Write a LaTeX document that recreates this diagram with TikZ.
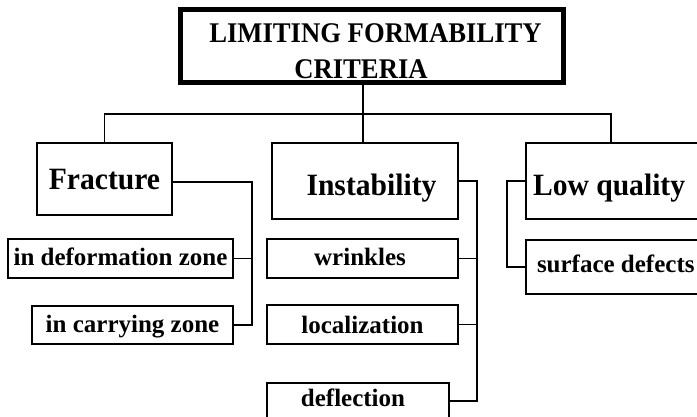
\documentclass[tikz,border=0pt]{standalone}
\usepackage{fontspec}
\setmainfont{Liberation Serif}
\newfontfamily\topfont{Liberation Serif}[FakeStretch=0.935]
\newfontfamily\bigfont{Liberation Serif}[FakeStretch=0.955]
\usetikzlibrary{calc}
\tikzset{
  box/.style={draw, line width=1.5pt, inner xsep=0pt, inner ysep=0pt, outer sep=0pt,
    minimum height=0pt, anchor=north west, font=\bfseries},
  bigtxt/.style={box, font=\bigfont\bfseries\fontsize{31}{34}\selectfont},
  smalltxt/.style={box, font=\bfseries\fontsize{25}{28}\selectfont},
  conn/.style={line width=1.5pt},
}
\begin{document}
\begin{tikzpicture}[x=1pt,y=-1pt]
\useasboundingbox (0,0) rectangle (697,416);
% top box
\node[box, line width=5pt, font=\topfont\bfseries\fontsize{28.5}{36}\selectfont,
  text height=32.5pt, text depth=40.5pt] (top) at (180.5,9.5)
  {\vtop{\baselineskip=36pt
     \hbox to 383pt{\hfil\kern7pt LIMITING FORMABILITY\hfil}
     \hbox to 383pt{\hfil CRITERIA\kern22pt\hfil}}};
% level 1
\node[bigtxt, minimum width=135pt, text height=46.5pt, text depth=25.5pt] (frac) at (37,143) {Fracture};
\node[bigtxt, minimum width=186pt, text height=52pt, text depth=24pt] (inst) at (272,143) {\hspace*{13pt}Instability};
\node[bigtxt, text height=52pt, text depth=24pt] (low) at (526,143) {\hbox to 180pt{\kern7pt Low quality\hfil}};
% fracture children
\node[smalltxt, minimum width=225pt, text height=26pt, text depth=13pt] (deform) at (8,239) {in deformation zone};
\node[smalltxt, minimum width=201pt, text height=26pt, text depth=12pt] (carry) at (32,306) {in carrying zone};
% instability children
\node[smalltxt, minimum width=191pt, text height=26pt, text depth=13pt] (wrink) at (267,239) {wrinkles\hspace*{5pt}};
\node[smalltxt, minimum width=191pt, text height=28pt, text depth=11pt] (local) at (267,305) {localization};
\node[smalltxt, minimum width=182pt, text height=23pt, text depth=13pt] (defl) at (267,383) {deflection\hspace*{10pt}};
% low quality child
\node[smalltxt, text height=32pt, text depth=22pt] (surf) at (526,240) {\hbox to 180pt{\kern11pt surface defects\hfil}};
% bus coordinates
\coordinate (hub) at (363,114);
\coordinate (fb) at (252,0);
\coordinate (ib) at (477,0);
\coordinate (lb) at (507,0);
% connectors
\draw[line width=2pt] (top.south -| hub) -- (hub |- inst.north);
\draw[line width=1.3pt] (frac.north) |- (hub) -| ($(low.north west)+(85,0)$);
\draw[conn] ([yshift=-3pt]frac.east) -| (fb |- carry.east) -- (carry.east);
\draw[conn] (deform.east) -- (deform.east -| fb);
\draw[conn] (inst.east) -| (ib |- defl.east) -- (defl.east);
\draw[conn] (wrink.east) -- (wrink.east -| ib);
\draw[conn] (local.east) -- (local.east -| ib);
\draw[conn] (low.west) -| (lb |- surf.west) -- (surf.west);
\end{tikzpicture}
\end{document}
